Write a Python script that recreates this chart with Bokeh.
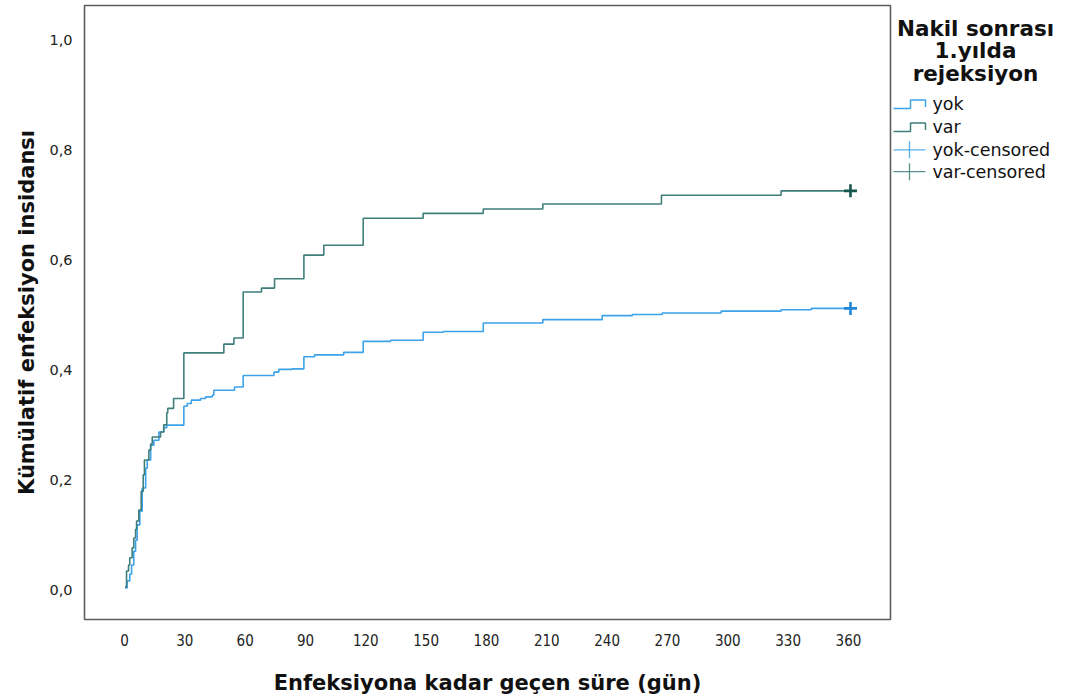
from bokeh.plotting import figure
from bokeh.layouts import row
from bokeh.models import Range1d, FixedTicker, CustomJSTickFormatter
from bokeh.core.properties import value
from bokeh.embed import file_html
from bokeh.resources import INLINE

# ---- data ----
x_ticks = [0, 30, 60, 90, 120, 150, 180, 210, 240, 270, 300, 330, 360]
y_ticks = [0.0, 0.2, 0.4, 0.6, 0.8, 1.0]

yok_t = [0.3, 1.3, 2.6, 3.5, 4.6, 5.5, 6.3, 7.6, 8.8, 10.5, 11.3, 13.0, 14.6, 17.1,
         19.5, 21.0, 29.5, 31.2, 33.2, 37.8, 40.3, 43.6, 44.4, 54.7, 59.0, 74.3,
         76.7, 83.4, 89.2, 94.5, 109.0, 118.7, 132.3, 148.5, 158.5, 178.4, 208.0,
         237.5, 252.5, 267.4, 296.7, 326.5, 341.5, 361.0]
yok_v = [0.003, 0.016, 0.028, 0.045, 0.070, 0.090, 0.118, 0.143, 0.185, 0.221, 0.236,
         0.263, 0.272, 0.287, 0.295, 0.2995, 0.334, 0.339, 0.345, 0.348, 0.351, 0.354,
         0.363, 0.369, 0.390, 0.396, 0.401, 0.402, 0.424, 0.4275, 0.432, 0.452, 0.454,
         0.4686, 0.470, 0.4855, 0.4915, 0.4988, 0.501, 0.5036, 0.507, 0.5096, 0.512,
         0.512]

var_t = [0.3, 1.0, 2.0, 2.6, 3.8, 4.6, 5.5, 6.0, 7.1, 8.3, 9.3, 9.9, 12.1, 13.0, 13.8,
         17.9, 19.5, 21.0, 21.5, 24.4, 29.5, 49.4, 54.4, 59.0, 68.1, 74.6, 89.2, 99.1,
         118.7, 148.5, 178.4, 208.0, 267.0, 326.5, 361.0]
var_v = [0.005, 0.034, 0.045, 0.058, 0.076, 0.094, 0.110, 0.125, 0.145, 0.179, 0.209,
         0.236, 0.254, 0.265, 0.278, 0.287, 0.300, 0.322, 0.330, 0.348, 0.431, 0.447,
         0.458, 0.542, 0.549, 0.566, 0.609, 0.627, 0.676, 0.685, 0.693, 0.702, 0.718,
         0.726, 0.726]

yok_cens_t = [361.0]
yok_cens_v = [0.512]
var_cens_t = [361.0]
var_cens_v = [0.726]

title_lines = ["Nakil sonrası", "1.yılda", "rejeksiyon"]
legend_labels = ["yok", "var", "yok-censored", "var-censored"]

YOK = "#3ca2ea"
YOK_D = "#1f88d8"
VAR = "#3e7f7b"
VAR_D = "#15574f"

# ---- main plot ----
p = figure(width=892, height=697,
           x_range=Range1d(-19.9, 380.9), y_range=Range1d(-0.0543, 1.0634),
           output_backend="svg", toolbar_location=None,
           min_border_left=84, min_border_right=2, min_border_top=5,
           min_border_bottom=75)
p.background_fill_color = "white"
p.border_fill_color = "white"
p.outline_line_color = "#5e5e5e"
p.outline_line_width = 1.6
p.grid.visible = False

p.step(yok_t, yok_v, mode="after", line_color=YOK, line_width=1.6)
p.step(var_t, var_v, mode="after", line_color=VAR, line_width=1.6)
p.scatter(yok_cens_t, yok_cens_v, marker="cross", size=13, line_width=2.6,
          line_color=YOK_D)
p.scatter(var_cens_t, var_cens_v, marker="cross", size=13, line_width=2.6,
          line_color=VAR_D)

for ax in (p.xaxis[0], p.yaxis[0]):
    ax.axis_line_color = None
    ax.major_tick_line_color = None
    ax.minor_tick_line_color = None
    ax.major_label_text_color = "#222222"
    ax.axis_label_text_font = "DejaVu Sans"
    ax.axis_label_text_font_style = "bold"
    ax.axis_label_text_font_size = "21px"
    ax.axis_label_text_color = "#111111"

p.xaxis.ticker = FixedTicker(ticks=x_ticks)
p.yaxis.ticker = FixedTicker(ticks=y_ticks)
p.yaxis.formatter = CustomJSTickFormatter(code="return tick.toFixed(1).replace('.', ',');")
p.xaxis.major_label_text_font = "'DejaVu Sans Condensed', 'Liberation Sans Narrow', 'DejaVu Sans'"
p.xaxis.major_label_text_font_size = "15px"
p.yaxis.major_label_text_font = "DejaVu Sans"
p.yaxis.major_label_text_font_size = "14.5px"
p.xaxis.major_label_standoff = 8
p.yaxis.major_label_standoff = 6
p.xaxis.axis_label = "Enfeksiyona kadar geçen süre (gün)"
p.yaxis.axis_label = "Kümülatif enfeksiyon insidansı"
p.xaxis.axis_label_standoff = 22
p.yaxis.axis_label_standoff = 7

# ---- legend panel (frame aligned with the main frame: 5..622 px) ----
lg = figure(width=173, height=697, x_range=Range1d(892, 1065), y_range=Range1d(622, 5),
            output_backend="svg", toolbar_location=None,
            min_border_left=0, min_border_right=0, min_border_top=5,
            min_border_bottom=75, x_axis_type=None, y_axis_type=None)
lg.outline_line_color = None
lg.grid.visible = False
lg.background_fill_color = "white"
lg.border_fill_color = "white"

lg.text(x=[975, 975, 975], y=[28, 50, 73], text=title_lines,
        text_font=value("DejaVu Sans"), text_font_style="bold",
        text_font_size="21.5px", text_align="center", text_baseline="middle",
        text_color="#111111")
lg.text(x=[932] * 4, y=[104, 127, 150, 172], text=legend_labels,
        text_font=value("DejaVu Sans"), text_font_size="17.5px",
        text_align="left", text_baseline="middle", text_color="#111111")

for yc, col in ((104, YOK), (127, VAR)):
    lg.line([893, 910, 910, 925, 925], [yc + 4.5, yc + 4.5, yc - 4, yc - 4, yc + 3],
            line_color=col, line_width=1.5)
for yc, col in ((150, YOK), (172, VAR)):
    lg.line([893, 925], [yc, yc], line_color=col, line_width=1.3, line_alpha=0.85)
    lg.line([909, 909], [yc - 8.5, yc + 8.5], line_color=col, line_width=1.3,
            line_alpha=0.85)

layout = row(p, lg)
open("out.html", "w").write(file_html(layout, INLINE))
